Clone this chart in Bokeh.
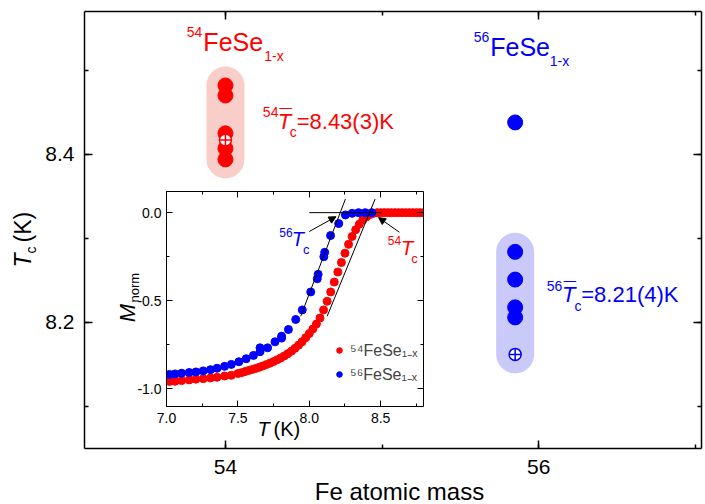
from bokeh.plotting import figure
from bokeh.models import (Range1d, LinearAxis, SingleIntervalTicker, Label, Arrow,
                          NormalHead, Legend, LegendItem, PrintfTickFormatter,
                          CustomLabelingPolicy)
from bokeh.embed import file_html
from bokeh.resources import INLINE

# ---------------- main panel data ----------------
mass_54 = [54.0]
mass_56 = [55.85]
tc_54 = [8.482, 8.470, 8.425, 8.407, 8.394]
tc_54_mean = [8.417]
tc_56 = [8.284, 8.251, 8.218, 8.206]
tc_56_outlier = [8.438]
tc_56_mean = [8.162]

# ---------------- inset data ----------------
T_54 = [6.98, 7.02, 7.06, 7.106, 7.159, 7.206, 7.257, 7.308, 7.354, 7.407, 7.454,
        7.500, 7.525, 7.550, 7.575, 7.600, 7.625, 7.650, 7.675, 7.700, 7.725,
        7.750, 7.775, 7.800, 7.825, 7.850, 7.875, 7.900, 7.925, 7.950, 7.975,
        8.000, 8.025, 8.050, 8.075, 8.100, 8.125, 8.150, 8.175, 8.200, 8.225,
        8.250, 8.275, 8.300, 8.325, 8.350, 8.375, 8.400, 8.425, 8.450, 8.475,
        8.500, 8.525, 8.550, 8.575, 8.600, 8.625, 8.650, 8.675, 8.700, 8.725,
        8.750, 8.775, 8.800]
M_54 = [-0.962, -0.958, -0.957, -0.953, -0.949, -0.945, -0.942, -0.938, -0.934, -0.927, -0.923,
        -0.913, -0.908, -0.902, -0.896, -0.890, -0.884, -0.877, -0.870, -0.862, -0.854,
        -0.845, -0.835, -0.825, -0.813, -0.800, -0.786, -0.770, -0.752, -0.732, -0.710,
        -0.686, -0.660, -0.632, -0.598, -0.552, -0.503, -0.450, -0.394, -0.337, -0.283,
        -0.230, -0.180, -0.135, -0.097, -0.066, -0.041, -0.024, -0.011, -0.004, 0.000,
        0.0, 0.0, 0.0, 0.0, 0.0, 0.0, 0.0, 0.0, 0.0, 0.0,
        0.0, 0.0, 0.0]
T_56 = [6.98, 7.02, 7.06, 7.106, 7.159, 7.206, 7.257, 7.308, 7.354, 7.407, 7.454,
        7.507, 7.558, 7.609, 7.655, 7.655, 7.708, 7.76, 7.806, 7.806, 7.854, 7.905,
        7.951, 8.01, 8.056, 8.062, 8.102, 8.108, 8.149, 8.206, 8.253, 8.30, 8.345,
        8.392, 8.438]
M_56 = [-0.923, -0.918, -0.915, -0.911, -0.907, -0.904, -0.898, -0.891, -0.883, -0.872, -0.861,
        -0.846, -0.829, -0.810, -0.767, -0.789, -0.767, -0.733, -0.701, -0.712, -0.663, -0.606,
        -0.552, -0.450, -0.375, -0.350, -0.250, -0.225, -0.130, -0.062, -0.013, -0.004, 0.0,
        0.0, 0.0]
fit_56_T = [7.940, 8.253]
fit_56_M = [-0.588, 0.077]
fit_54_T = [8.125, 8.461]
fit_54_M = [-0.588, 0.077]
base_T = [8.0, 8.507]
base_M = [0.0, 0.0]

RED = "#FF0000"
BLUE = "#0000FF"
FONT = "Liberation Sans"

NO_LABELS = CustomLabelingPolicy(code="// keep no labels")

# ---------------- main figure ----------------
p = figure(width=705, height=504, x_range=Range1d(53.1, 57.04), y_range=Range1d(8.05, 8.57),
           output_backend="svg", toolbar_location=None, title=None,
           min_border_left=84, min_border_right=2, min_border_top=11, min_border_bottom=56)
p.grid.visible = False
p.outline_line_color = None
p.background_fill_color = "white"
P_SX, P_SY = 157.1, 840.4


def style_axis(ax, labels=True, size="21px", major_in=8, minor_in=4, lw=1.5):
    ax.axis_line_width = lw
    ax.axis_line_color = "black"
    ax.major_tick_in = major_in
    ax.major_tick_out = 0
    ax.minor_tick_in = minor_in
    ax.minor_tick_out = 0
    ax.major_tick_line_width = lw
    ax.minor_tick_line_width = lw
    ax.major_tick_line_color = "black"
    ax.minor_tick_line_color = "black"
    ax.major_label_text_font = FONT
    ax.major_label_text_font_size = size
    ax.major_label_text_color = "black"
    if not labels:
        ax.major_label_policy = NO_LABELS
        ax.major_label_standoff = 0
        ax.major_label_text_font_size = "1px"


xt = SingleIntervalTicker(interval=2, num_minor_ticks=2)
yt = SingleIntervalTicker(interval=0.2, num_minor_ticks=2)
p.xaxis.ticker = xt
p.yaxis.ticker = yt
style_axis(p.xaxis[0])
style_axis(p.yaxis[0])
p.xaxis.major_label_standoff = 11
p.yaxis.major_label_standoff = 10
top_ax = LinearAxis(ticker=xt)
right_ax = LinearAxis(ticker=yt)
style_axis(top_ax, labels=False)
style_axis(right_ax, labels=False)
p.add_layout(top_ax, "above")
p.add_layout(right_ax, "right")

# shaded pills around clustered points
red_span = tc_54 + tc_54_mean
blue_span = tc_56 + tc_56_mean
p.line(mass_54 * 2, [min(red_span), max(red_span)], line_width=38, line_cap="round",
       line_color="#F9CDC8")
p.line(mass_56 * 2, [min(blue_span), max(blue_span)], line_width=38, line_cap="round",
       line_color="#CACAFA")

p.scatter(mass_54 * len(tc_54), tc_54, size=15, color=RED)
p.scatter(mass_56 * len(tc_56), tc_56, size=15, color=BLUE)
p.scatter(mass_56, tc_56_outlier, size=15, color=BLUE)
p.scatter(mass_54, tc_54_mean, marker="circle_cross", size=12, fill_color="white",
          line_color=RED, line_width=1.5)
p.scatter(mass_56, tc_56_mean, marker="circle_cross", size=12, fill_color="white",
          line_color=BLUE, line_width=1.5)


def lab(fig, sx, sy, x, y, text, size, color="black", style="normal", align="left",
        angle=0):
    """x, y give the text baseline start; sx, sy are pixels per data unit."""
    shift = 0.35 * size
    if angle == 0:
        y = y + shift / sy
    else:
        x = x - shift / sx
    fig.add_layout(Label(x=x, y=y, text=text, text_font=FONT, text_font_size=f"{size}px",
                         text_color=color, text_font_style=style, text_align=align,
                         text_baseline="alphabetic", angle=angle))


def pl(*a, **k):
    lab(p, P_SX, P_SY, *a, **k)


# group titles
pl(53.753, 8.5394, "54", 14, RED)
pl(53.859, 8.5228, "FeSe", 25, RED)
pl(54.248, 8.5117, "1-x", 14, RED)
pl(55.585, 8.5335, "56", 14, BLUE)
pl(55.691, 8.5176, "FeSe", 25, BLUE)
pl(56.071, 8.5057, "1-x", 14, BLUE)
# mean Tc annotations
pl(54.239, 8.4442, "54", 14, RED)
pl(54.334, 8.4304, "T", 22, RED, "italic")
pl(54.345, 8.4352, "\u00af", 22, RED)
pl(54.411, 8.4204, "c", 14, RED)
pl(54.455, 8.4304, "=8.43(3)K", 22, RED)
pl(56.052, 8.2380, "56", 14, BLUE)
pl(56.149, 8.2241, "T", 22, BLUE, "italic")
pl(56.160, 8.2289, "\u00af", 22, BLUE)
pl(56.229, 8.2142, "c", 14, BLUE)
pl(56.272, 8.2241, "=8.21(4)K", 22, BLUE)

# ---------------- inset figure ----------------
q = figure(width=316, height=259, x_range=Range1d(7.0, 8.8), y_range=Range1d(-1.1, 0.12),
           output_backend="svg", toolbar_location=None, title=None,
           min_border_left=54, min_border_right=3, min_border_top=3, min_border_bottom=40)
q.grid.visible = False
q.outline_line_color = None
q.background_fill_color = "white"
q.border_fill_alpha = 0
Q_SX, Q_SY = 143.9, 177.05
qxt = SingleIntervalTicker(interval=0.5, num_minor_ticks=2)
qyt = SingleIntervalTicker(interval=0.5, num_minor_ticks=2)
q.xaxis.ticker = qxt
q.yaxis.ticker = qyt
style_axis(q.xaxis[0], size="14px", major_in=6, minor_in=3, lw=1)
style_axis(q.yaxis[0], size="14px", major_in=6, minor_in=3, lw=1)
q.xaxis.formatter = PrintfTickFormatter(format="%.1f")
q.yaxis.formatter = PrintfTickFormatter(format="%.1f")
q.xaxis.major_label_standoff = 6
q.yaxis.major_label_standoff = 5
qt = LinearAxis(ticker=qxt)
qr = LinearAxis(ticker=qyt)
style_axis(qt, labels=False, major_in=6, minor_in=3, lw=1)
style_axis(qr, labels=False, major_in=6, minor_in=3, lw=1)
q.add_layout(qt, "above")
q.add_layout(qr, "right")

r54 = q.scatter(T_54, M_54, size=8, color=RED)
r56 = q.scatter(T_56, M_56, size=8, color=BLUE)
q.line(base_T, base_M, line_color="black", line_width=1)
q.line(fit_56_T, fit_56_M, line_color="black", line_width=1)
q.line(fit_54_T, fit_54_M, line_color="black", line_width=1)

q.add_layout(Arrow(end=NormalHead(size=7, fill_color="black", line_color="black"),
                   x_start=8.0, y_start=-0.107, x_end=8.187, y_end=-0.023, line_width=1))
q.add_layout(Arrow(end=NormalHead(size=7, fill_color="black", line_color="black"),
                   x_start=8.631, y_start=-0.111, x_end=8.485, y_end=-0.028, line_width=1))


def ql(*a, **k):
    lab(q, Q_SX, Q_SY, *a, **k)


ql(7.790, -0.134, "56", 12, BLUE)
ql(7.878, -0.1906, "T", 20, BLUE, "italic")
ql(7.9555, -0.2358, "c", 13, BLUE)
ql(8.5497, -0.181, "54", 12, RED)
ql(8.6428, -0.2375, "T", 20, RED, "italic")
ql(8.715, -0.285, "c", 13, RED)

leg = Legend(items=[LegendItem(label="\u2075\u2074FeSe\u2081\u208b\u2093", renderers=[r54]),
                    LegendItem(label="\u2075\u2076FeSe\u2081\u208b\u2093", renderers=[r56])],
             location=(166, 21), border_line_color=None, background_fill_alpha=0,
             label_text_font=FONT, label_text_font_size="16px", glyph_width=14,
             glyph_height=20, label_standoff=4, spacing=2, padding=0, margin=0,
             label_height=20)
q.add_layout(leg, "center")
q.styles = {"position": "absolute", "left": "112px", "top": "187px"}

# ---------------- overlay for axis titles (page pixel coordinates) ----------------
t = figure(width=705, height=504, x_range=Range1d(0, 705), y_range=Range1d(504, 0),
           output_backend="svg", toolbar_location=None, x_axis_type=None, y_axis_type=None,
           title=None, min_border=0, min_border_left=0, min_border_right=0,
           min_border_top=0, min_border_bottom=0)
t.grid.visible = False
t.outline_line_color = None
t.background_fill_alpha = 0
t.border_fill_alpha = 0
t.styles = {"position": "absolute", "left": "0px", "top": "0px"}


def tl(*a, **k):
    lab(t, 1.0, -1.0, *a, **k)


tl(399, 499, "Fe atomic mass", 24, align="center")
tl(31, 267, "T", 23, style="italic", angle=1.5708)
tl(35, 253, "c", 14, angle=1.5708)
tl(30.5, 242, "(K)", 23, angle=1.5708)
tl(135, 321.7, "M", 22, style="italic", angle=1.5708)
tl(139, 302, "norm", 13, angle=1.5708)
tl(257, 435, "T", 20, style="italic")
tl(273, 435, "(K)", 20)

open("out.html", "w").write(file_html([p, q, t], INLINE))
